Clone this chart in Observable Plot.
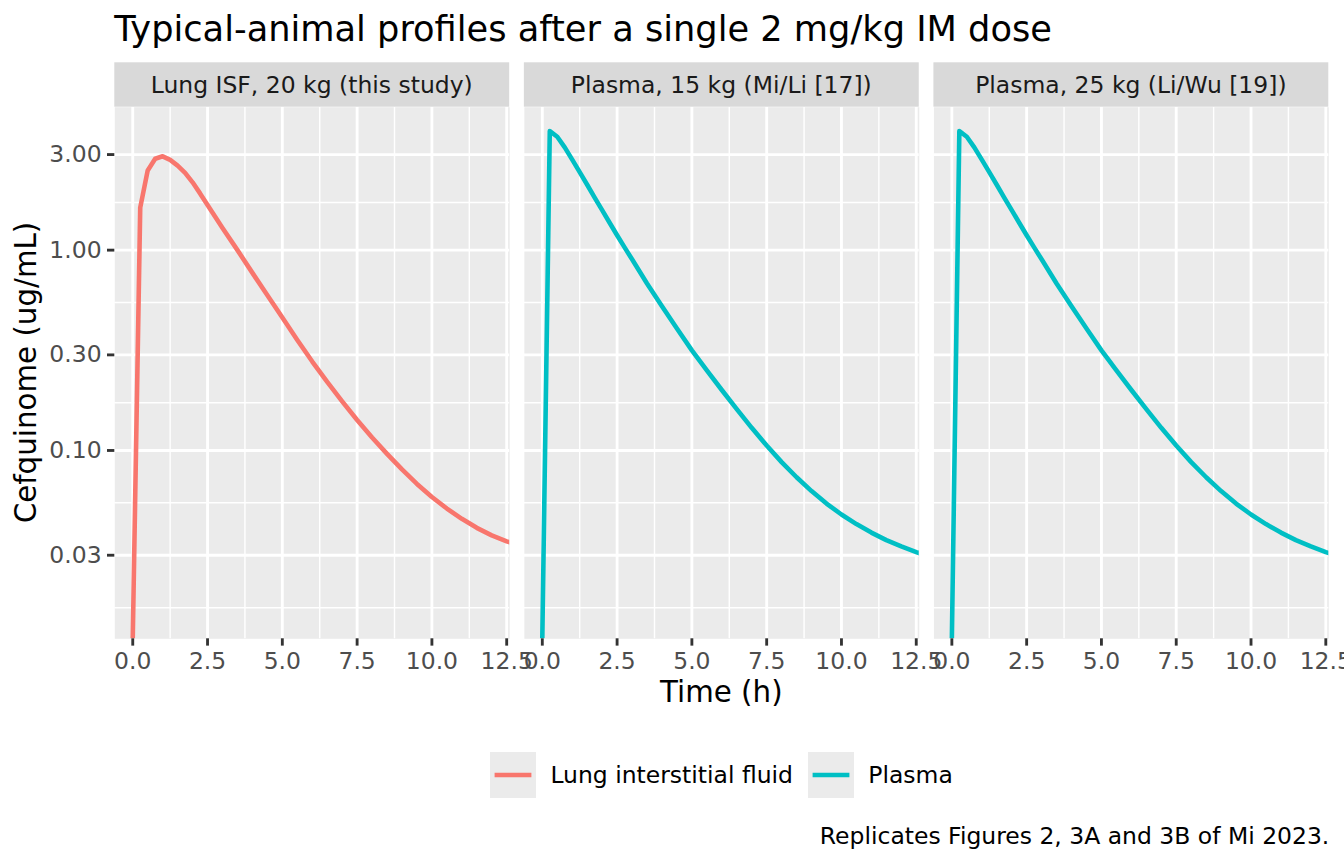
<!DOCTYPE html>
<html><head><meta charset="utf-8">
<script src="https://cdn.jsdelivr.net/npm/d3@7"></script>
<script src="https://cdn.jsdelivr.net/npm/@observablehq/plot@0.6"></script>
<style>
html,body{margin:0;padding:0;background:#fff;overflow:hidden}
#wrap{position:relative;width:1344px;height:864px;font-family:"DejaVu Sans",sans-serif}
#wrap > svg{position:absolute;left:0;top:0}
#legend{position:absolute;left:114.3px;width:1214px;top:752px;height:46px;display:flex;justify-content:center;align-items:center;font-size:23.47px;color:#000;font-family:"DejaVu Sans",sans-serif}
.key{width:46px;height:46px;background:#EBEBEB;margin-right:14.67px;display:block}
.lab{margin-right:14.67px;white-space:nowrap}
.lab:last-child{margin-right:0}
</style></head><body><div id="wrap"></div>
<script>
// ---- data ----
const panels = ["Lung ISF, 20 kg (this study)", "Plasma, 15 kg (Mi/Li [17])", "Plasma, 25 kg (Li/Wu [19])"];
const fluids = ["Lung interstitial fluid", "Plasma"];
const fluidColors = ["#F8766D", "#00BFC4"];
const times = [0, 0.25, 0.5, 0.75, 1, 1.25, 1.5, 1.75, 2, 2.25, 2.5, 2.75, 3, 3.5, 4, 4.5, 5, 5.5, 6, 6.5, 7, 7.5, 8, 8.5, 9, 9.5, 10, 10.5, 11, 11.5, 12, 12.5, 13];
const lungISF20 = [0, 1.63, 2.50, 2.86, 2.94, 2.82, 2.64, 2.43, 2.18, 1.92, 1.68, 1.47, 1.29, 1.00, 0.770, 0.595, 0.461, 0.356, 0.278, 0.220, 0.176, 0.142, 0.116, 0.0962, 0.0804, 0.0681, 0.0586, 0.0513, 0.0456, 0.0411, 0.0377, 0.0352, 0.0333];
const plasma15 = [0, 3.93, 3.68, 3.26, 2.83, 2.45, 2.12, 1.83, 1.585, 1.37, 1.186, 1.032, 0.900, 0.682, 0.524, 0.406, 0.316, 0.251, 0.2004, 0.1607, 0.1297, 0.1059, 0.0875, 0.0735, 0.0627, 0.0543, 0.0479, 0.0429, 0.0389, 0.0357, 0.0332, 0.0311, 0.0294];
const plasma25 = [0, 3.93, 3.68, 3.26, 2.83, 2.45, 2.12, 1.83, 1.585, 1.37, 1.186, 1.032, 0.900, 0.682, 0.524, 0.406, 0.316, 0.251, 0.2004, 0.1607, 0.1297, 0.1059, 0.0875, 0.0735, 0.0627, 0.0543, 0.0479, 0.0429, 0.0389, 0.0357, 0.0332, 0.0311, 0.0294];
const xTicks = [0, 2.5, 5, 7.5, 10, 12.5];
const xMinor = [1.25, 3.75, 6.25, 8.75, 11.25];
const yTicks = [0.03, 0.1, 0.3, 1, 3];
const yMinor = [0.0164, 0.0548, 0.173, 0.548, 1.73];
const titleText = "Typical-animal profiles after a single 2 mg/kg IM dose";
const xLabel = "Time (h)";
const yLabel = "Cefquinome (ug/mL)";
const captionText = "Replicates Figures 2, 3A and 3B of Mi 2023.";

const series = [
  {panel: panels[0], fluid: fluids[0], values: lungISF20},
  {panel: panels[1], fluid: fluids[1], values: plasma15},
  {panel: panels[2], fluid: fluids[1], values: plasma25}
];
const data = series.flatMap(s => times.map((t, i) => ({panel: s.panel, fluid: s.fluid, t, c: s.values[i]})));

// ---- layout ----
const W = 1344, H = 864;
const mL = 114.3, mR = 15.7, mT = 106.7, mB = 864 - 638.3;
const FS = 23.47;
const LW = 4.6;

const chart = Plot.plot({
  width: W, height: H,
  marginTop: mT, marginBottom: mB, marginLeft: mL, marginRight: mR,
  style: {fontFamily: "DejaVu Sans", fontSize: FS + "px", background: "transparent", overflow: "visible"},
  fx: {domain: panels, paddingInner: 0.03582, paddingOuter: 0, round: false, axis: null, label: null},
  x: {domain: [-0.6, 12.6], label: null},
  y: {type: "log", domain: [0.01148, 5.17], clamp: true, label: null},
  color: {domain: fluids, range: fluidColors},
  marks: [
    Plot.frame({fill: "#EBEBEB", stroke: null}),
    Plot.gridX(xMinor, {stroke: "white", strokeOpacity: 1, strokeWidth: 1.42}),
    Plot.gridY(yMinor, {stroke: "white", strokeOpacity: 1, strokeWidth: 1.42}),
    Plot.gridX(xTicks, {stroke: "white", strokeOpacity: 1, strokeWidth: 2.85}),
    Plot.gridY(yTicks, {stroke: "white", strokeOpacity: 1, strokeWidth: 2.85}),
    Plot.line(data, {x: "t", y: "c", fx: "panel", stroke: "fluid", z: "fluid", strokeWidth: LW, strokeLinecap: "butt", strokeLinejoin: "round", clip: true}),
    Plot.axisX(xTicks, {tickSize: 7.33, tickPadding: 5.87, tickFormat: d3.format(".1f"), fontSize: FS, fill: "#4D4D4D", stroke: "#333333", strokeWidth: 2.85, label: null}),
    Plot.axisY(yTicks, {tickSize: 7.33, tickPadding: 5.87, tickFormat: d3.format(".2f"), fontSize: FS, fill: "#4D4D4D", stroke: "#333333", strokeWidth: 2.85, label: null})
  ]
});

const wrap = document.getElementById("wrap");
wrap.appendChild(chart);

// ---- overlay: title, strips, axis titles, caption ----
const fx = chart.scale("fx");
const bw = fx.bandwidth;
const ov = d3.create("svg").attr("width", W).attr("height", H)
  .attr("font-family", "DejaVu Sans").style("pointer-events", "none");

ov.append("text").attr("x", mL).attr("y", 40.5).attr("font-size", 35.2).attr("fill", "#000").text(titleText);

for (const p of panels) {
  const x0 = fx.apply(p);
  ov.append("rect").attr("x", x0).attr("y", 62.3).attr("width", bw).attr("height", mT - 62.3).attr("fill", "#D9D9D9");
  ov.append("text").attr("x", x0 + bw / 2).attr("y", 93).attr("text-anchor", "middle")
    .attr("font-size", FS).attr("fill", "#1A1A1A").text(p);
}

const panelsLeft = fx.apply(panels[0]);
const panelsRight = fx.apply(panels[panels.length - 1]) + bw;
ov.append("text").attr("x", (panelsLeft + panelsRight) / 2).attr("y", 702).attr("text-anchor", "middle")
  .attr("font-size", 29.33).attr("fill", "#000").text(xLabel);
ov.append("text").attr("transform", `translate(36,${(mT + H - mB) / 2}) rotate(-90)`).attr("text-anchor", "middle")
  .attr("font-size", 29.33).attr("fill", "#000").text(yLabel);
ov.append("text").attr("x", W - 14.67).attr("y", 844).attr("text-anchor", "end")
  .attr("font-size", FS).attr("fill", "#000").text(captionText);

wrap.appendChild(ov.node());

// ---- legend ----
const leg = document.createElement("div");
leg.id = "legend";
fluids.forEach((f, i) => {
  const key = d3.create("svg").attr("class", "key").attr("width", 46).attr("height", 46);
  key.append("line").attr("x1", 4.6).attr("x2", 41.4).attr("y1", 23).attr("y2", 23)
    .attr("stroke", chart.scale("color").apply(f)).attr("stroke-width", LW);
  leg.appendChild(key.node());
  const lab = document.createElement("span");
  lab.className = "lab";
  lab.textContent = f;
  leg.appendChild(lab);
});
wrap.appendChild(leg);
</script></body></html>
